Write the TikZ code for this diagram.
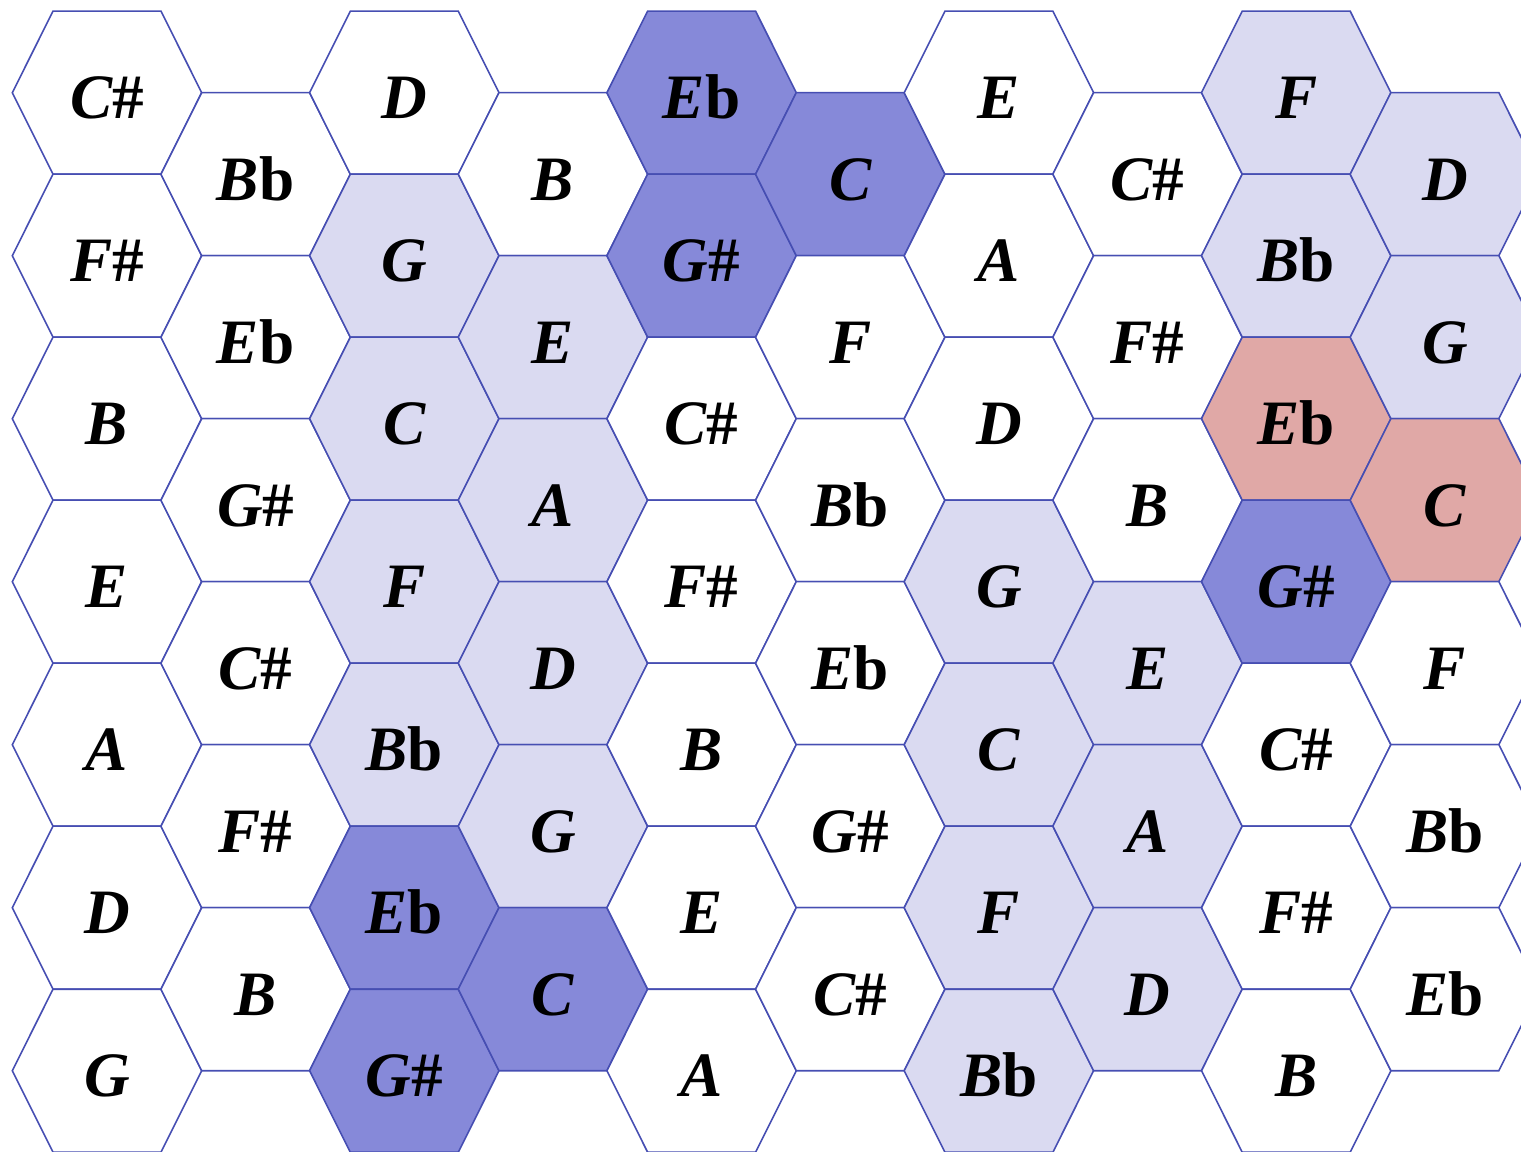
\documentclass[tikz,border=0pt]{standalone}
\usepackage{fontspec}
\setmainfont{Liberation Serif}
\usepackage{tikz}
\definecolor{hexline}{RGB}{70,78,178}
\definecolor{lightfill}{RGB}{218,218,241}
\definecolor{darkfill}{RGB}{134,137,217}
\definecolor{pinkfill}{RGB}{224,168,166}
\newcommand{\shp}{\upshape\#}
\newcommand{\flt}{\upshape b}

\begin{document}
\begin{tikzpicture}[x=0.02cm,y=-0.02cm,
		hexcell/.style={draw=hexline,line width=0.9pt,fill=white,line join=miter},
		notelabel/.style={anchor=base,inner sep=0pt,font=\fontsize{36}{40}\selectfont\bfseries\itshape},
		lt/.style={fill=lightfill},
		dk/.style={fill=darkfill},
		pk/.style={fill=pinkfill},
		h2-1/.style=lt, h2-2/.style=lt, h2-3/.style=lt, h2-4/.style=lt,
		h3-1/.style=lt, h3-2/.style=lt, h3-3/.style=lt, h3-4/.style=lt,
		h6-3/.style=lt, h6-4/.style=lt, h6-5/.style=lt, h6-6/.style=lt,
		h7-3/.style=lt, h7-4/.style=lt, h7-5/.style=lt,
		h8-0/.style=lt, h8-1/.style=lt, h9-0/.style=lt, h9-1/.style=lt,
		h4-0/.style=dk, h5-0/.style=dk, h4-1/.style=dk,
		h2-5/.style=dk, h3-5/.style=dk, h2-6/.style=dk, h8-3/.style=dk,
		h8-2/.style=pk, h9-2/.style=pk]
			
			\useasboundingbox (0,0) rectangle (1521,1152);
			\clip (0,0) rectangle (1521,1152);
			
			\foreach \c/\notes in {
				0/{C\shp,F\shp,B,E,A,D,G},
				1/{B\flt,E\flt,G\shp,C\shp,F\shp,B},
				2/{D,G,C,F,B\flt,E\flt,G\shp},
				3/{B,E,A,D,G,C},
				4/{E\flt,G\shp,C\shp,F\shp,B,E,A},
				5/{C,F,B\flt,E\flt,G\shp,C\shp},
				6/{E,A,D,G,C,F,B\flt},
				7/{C\shp,F\shp,B,E,A,D},
				8/{F,B\flt,E\flt,G\shp,C\shp,F\shp,B},
				9/{D,G,C,F,B\flt,E\flt}}
			{
				\foreach \n [count=\r from 0] in \notes {
					\pgfmathsetmacro{\x}{107+148.65*\c}
					\pgfmathsetmacro{\y}{92.7+81.5*mod(\c,2)+163*\r}
					\path[hexcell,h\c-\r/.try] (\x,\y) ++(-94.7,0) -- ++(40.7,-81.5) -- ++(108,0)
						-- ++(40.7,81.5) -- ++(-40.7,81.5) -- ++(-108,0) -- cycle;
					\node[notelabel] (n\c-\r) at (\x,\y+26) {\n};
				}
			}
			
		\end{tikzpicture}
\end{document}
